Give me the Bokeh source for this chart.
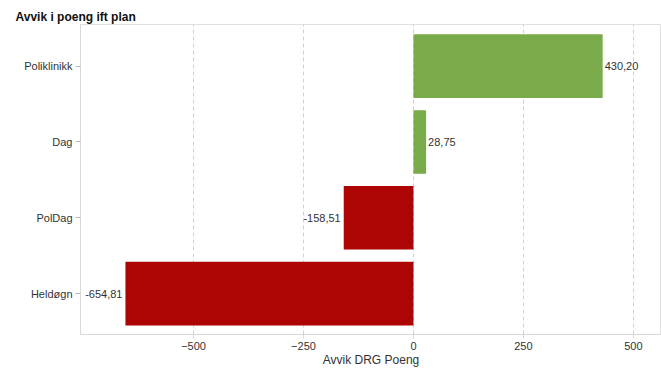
from bokeh.plotting import figure
from bokeh.models import Range1d, FixedTicker, Title
from bokeh.core.properties import value
from bokeh.embed import file_html
from bokeh.resources import INLINE

categories = ["Poliklinikk", "Dag", "PolDag", "Heldøgn"]
values = [430.20, 28.75, -158.51, -654.81]
x_ticks = [-500, -250, 0, 250, 500]

FONT = "Liberation Sans"
n = len(categories)
ypos = [n - 1 - i for i in range(n)]
colors = ["#7aab4a" if v >= 0 else "#ad0404" for v in values]
labels = [f"{v:.2f}".replace(".", ",") for v in values]

xr = Range1d(-757, 564)
yr = Range1d(-0.54, 3.55)
p = figure(width=661, height=369, output_backend="svg", toolbar_location=None,
           x_range=xr, y_range=yr,
           min_border_left=80, min_border_right=0, min_border_top=24,
           min_border_bottom=0)
p.title.visible = False
t = Title(text="Avvik i poeng ift plan", align="left", offset=-65,
          text_font=FONT, text_font_size="12px", text_font_style="bold",
          text_color="#111111", standoff=2)
p.add_layout(t, "above")

p.hbar(y=ypos, left=0, right=values, height=0.84, color=colors, line_color=None)

pos = [(v, y, l) for v, y, l in zip(values, ypos, labels) if v >= 0]
neg = [(v, y, l) for v, y, l in zip(values, ypos, labels) if v < 0]
p.text(x=[a[0] for a in pos], y=[a[1] for a in pos], text=[a[2] for a in pos],
       text_align="left", text_baseline="middle", x_offset=2,
       text_font=value(FONT), text_font_size="11px", text_color="#333333")
p.text(x=[a[0] for a in neg], y=[a[1] for a in neg], text=[a[2] for a in neg],
       text_align="right", text_baseline="middle", x_offset=-3,
       text_font=value(FONT), text_font_size="11px", text_color="#333333")

p.xaxis.ticker = FixedTicker(ticks=x_ticks)
p.xaxis.axis_label = "Avvik DRG Poeng"
p.xaxis.axis_label_text_font = FONT
p.xaxis.axis_label_text_font_size = "12px"
p.xaxis.axis_label_text_font_style = "normal"
p.xaxis.axis_label_text_color = "#333333"
p.xaxis.axis_label_standoff = 0
p.xaxis.major_label_text_font = FONT
p.xaxis.major_label_text_font_size = "11px"
p.xaxis.major_label_text_color = "#333333"
p.xaxis.major_label_standoff = 3
p.xaxis.axis_line_color = "#d9d9d9"
p.xaxis.major_tick_line_color = "#d9d9d9"
p.xaxis.major_tick_in = 0
p.xaxis.major_tick_out = 4
p.xaxis.minor_tick_line_color = None

p.yaxis.ticker = FixedTicker(ticks=ypos)
p.yaxis.major_label_overrides = {y: c for y, c in zip(ypos, categories)}
p.yaxis.major_label_text_font = FONT
p.yaxis.major_label_text_font_size = "11px"
p.yaxis.major_label_text_color = "#333333"
p.yaxis.major_label_standoff = 3
p.yaxis.axis_line_color = "#d9d9d9"
p.yaxis.major_tick_line_color = "#bbbbbb"
p.yaxis.major_tick_in = 0
p.yaxis.major_tick_out = 5
p.yaxis.minor_tick_line_color = None

p.xgrid.grid_line_color = "#d0d0d0"
p.xgrid.grid_line_dash = "4 3"
p.ygrid.grid_line_color = None
p.outline_line_color = "#e0e0e0"
p.background_fill_color = "white"
p.border_fill_color = "white"

open("out.html", "w").write(file_html(p, INLINE))
